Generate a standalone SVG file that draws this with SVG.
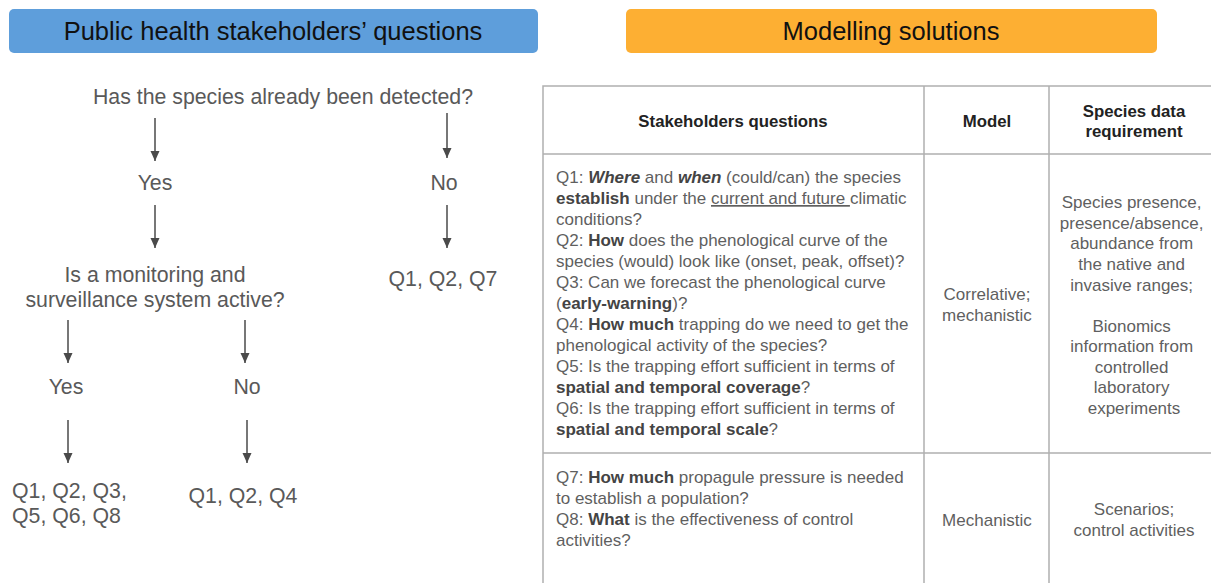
<svg xmlns="http://www.w3.org/2000/svg" width="1211" height="583" viewBox="0 0 1211 583">
<style>
.hdr{font-family:"Liberation Sans",Arial,sans-serif;font-size:25.5px;fill:#111;text-anchor:middle}
.fl{font-family:"Liberation Sans",Arial,sans-serif;font-size:21.3px;fill:#595959;text-anchor:middle}
.tb{font-family:"Liberation Sans",Arial,sans-serif;font-size:17px;fill:#5f5f5f}
.tc{text-anchor:middle}
.th{font-family:"Liberation Sans",Arial,sans-serif;font-size:16.8px;font-weight:bold;fill:#222;text-anchor:middle}
.b{font-weight:bold;fill:#444}
.bi{font-weight:bold;font-style:italic;fill:#444}
.grid{stroke:#b0b0b0;stroke-width:1.5;fill:none}
.arr{stroke:#4a4a4a;stroke-width:1.5;fill:none;marker-end:url(#ah)}
</style>
<defs>
<marker id="ah" markerUnits="userSpaceOnUse" markerWidth="11" markerHeight="10" refX="10" refY="5" orient="auto" viewBox="0 0 11 10">
<path d="M0,0.5 L10,5 L0,9.5 Z" fill="#4a4a4a"/>
</marker>
</defs>
<rect width="1211" height="583" fill="#fff"/>
<g id="title-left">
<rect x="9" y="9" width="529" height="44" rx="5" fill="#5e9edb"/>
<text class="hdr" x="273" y="40">Public health stakeholders’ questions</text>
</g>
<g id="title-right">
<rect x="626" y="9" width="531" height="44" rx="5" fill="#fdaf33"/>
<text class="hdr" x="891" y="40">Modelling solutions</text>
</g>
<g id="q-detected"><text class="fl" x="283" y="104">Has the species already been detected?</text></g>
<g id="yes1"><text class="fl" x="155" y="190">Yes</text></g>
<g id="no1"><text class="fl" x="444" y="190">No</text></g>
<g id="q-monitoring"><text class="fl" x="155" y="282">Is a monitoring and</text><text class="fl" x="155" y="307">surveillance system active?</text></g>
<g id="res-no1"><text class="fl" x="443" y="286">Q1, Q2, Q7</text></g>
<g id="yes2"><text class="fl" x="66" y="394">Yes</text></g>
<g id="no2"><text class="fl" x="247" y="394">No</text></g>
<g id="res-yes2"><text class="fl" x="12" y="498" style="text-anchor:start">Q1, Q2, Q3,</text><text class="fl" x="12" y="523" style="text-anchor:start">Q5, Q6, Q8</text></g>
<g id="res-no2"><text class="fl" x="243" y="503">Q1, Q2, Q4</text></g>
<g id="connectors">
<line class="arr" x1="155" y1="118" x2="155" y2="161"/>
<line class="arr" x1="447" y1="113" x2="447" y2="158"/>
<line class="arr" x1="155" y1="205" x2="155" y2="248"/>
<line class="arr" x1="447" y1="205" x2="447" y2="248"/>
<line class="arr" x1="68" y1="320" x2="68" y2="363"/>
<line class="arr" x1="245" y1="320" x2="245" y2="363"/>
<line class="arr" x1="68" y1="420" x2="68" y2="463"/>
<line class="arr" x1="247" y1="420" x2="247" y2="463"/>
</g>
<g id="table">
<path class="grid" d="M1212,86 H543 V584 M543,154 H1212 M543,453 H1212 M924,86 V584 M1049,86 V584"/>
<text class="th" x="733" y="127">Stakeholders questions</text>
<text class="th" x="987" y="127">Model</text>
<text class="th" x="1134" y="117">Species data</text>
<text class="th" x="1134" y="137">requirement</text>
<text class="tb" x="556">
<tspan x="556" y="183">Q1: <tspan class="bi">Where</tspan> and <tspan class="bi">when</tspan> (could/can) the species</tspan>
<tspan x="556" y="204"><tspan class="b">establish</tspan> under the <tspan text-decoration="underline">current and future </tspan>climatic</tspan>
<tspan x="556" y="225">conditions?</tspan>
<tspan x="556" y="246">Q2: <tspan class="b">How</tspan> does the phenological curve of the</tspan>
<tspan x="556" y="267">species (would) look like (onset, peak, offset)?</tspan>
<tspan x="556" y="288">Q3: Can we forecast the phenological curve</tspan>
<tspan x="556" y="309">(<tspan class="b">early-warning</tspan>)?</tspan>
<tspan x="556" y="330">Q4: <tspan class="b">How much</tspan> trapping do we need to get the</tspan>
<tspan x="556" y="351">phenological activity of the species?</tspan>
<tspan x="556" y="372">Q5: Is the trapping effort sufficient in terms of</tspan>
<tspan x="556" y="393"><tspan class="b">spatial and temporal coverage</tspan>?</tspan>
<tspan x="556" y="414">Q6: Is the trapping effort sufficient in terms of</tspan>
<tspan x="556" y="435"><tspan class="b">spatial and temporal scale</tspan>?</tspan>
</text>
<text class="tb tc" x="987"><tspan x="987" y="300">Correlative;</tspan><tspan x="987" y="321">mechanistic</tspan></text>
<text class="tb tc" x="1134">
<tspan x="1134" y="208">Species presence,</tspan>
<tspan x="1134" y="229">presence/absence,</tspan>
<tspan x="1134" y="249">abundance from</tspan>
<tspan x="1134" y="270">the native and</tspan>
<tspan x="1134" y="291">invasive ranges;</tspan>
<tspan x="1134" y="332">Bionomics</tspan>
<tspan x="1134" y="352">information from</tspan>
<tspan x="1134" y="373">controlled</tspan>
<tspan x="1134" y="393">laboratory</tspan>
<tspan x="1134" y="414">experiments</tspan>
</text>
<text class="tb" x="556">
<tspan x="556" y="483">Q7: <tspan class="b">How much</tspan> propagule pressure is needed</tspan>
<tspan x="556" y="504">to establish a population?</tspan>
<tspan x="556" y="525">Q8: <tspan class="b">What</tspan> is the effectiveness of control</tspan>
<tspan x="556" y="546">activities?</tspan>
</text>
<text class="tb tc" x="987" y="526">Mechanistic</text>
<text class="tb tc" x="1134"><tspan x="1134" y="515">Scenarios;</tspan><tspan x="1134" y="536">control activities</tspan></text>
</g>
</svg>
